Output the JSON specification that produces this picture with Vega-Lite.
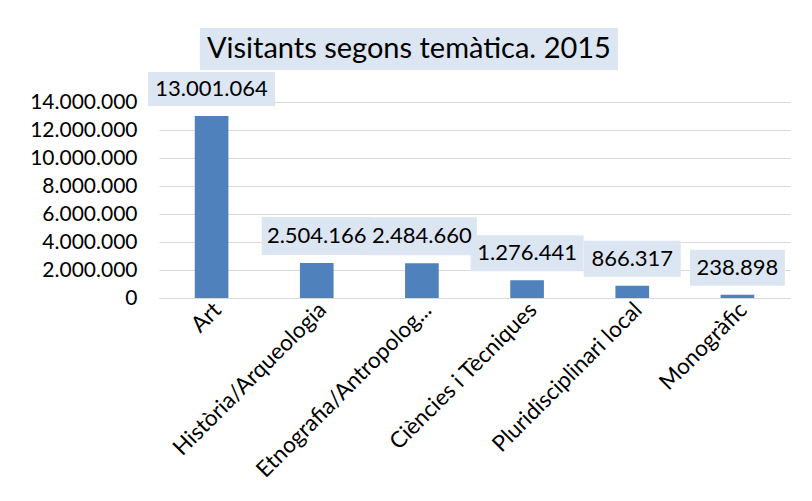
{
  "$schema": "https://vega.github.io/schema/vega-lite/v6.json",
  "width": 631,
  "height": 196,
  "autosize": {"type": "none"},
  "padding": {"left": 159, "top": 102, "right": 22, "bottom": 203},
  "background": "white",
  "config": {
    "locale": {"number": {"decimal": ",", "thousands": ".", "grouping": [3], "currency": ["", " €"]}},
    "view": {"stroke": null},
    "font": "Lato",
    "axis": {"labelFont": "Lato", "labelFontSize": 21, "labelColor": "#000000", "ticks": false, "tickSize": 0, "title": null, "labelOverlap": false}
  },
  "datasets": {
    "visitants": [
      {"tematica": "Art", "visitants": 13001064},
      {"tematica": "Història/Arqueologia", "visitants": 2504166},
      {"tematica": "Etnografia/Antropologia", "visitants": 2484660},
      {"tematica": "Ciències i Tècniques", "visitants": 1276441},
      {"tematica": "Pluridisciplinari local", "visitants": 866317},
      {"tematica": "Monogràfic", "visitants": 238898}
    ],
    "titol": [
      {"text": "Visitants segons temàtica. 2015", "tematica": "Etnografia/Antropologia", "pos": 17786000}
    ]
  },
  "data": {"name": "visitants"},
  "layer": [
    {
      "mark": {"type": "bar", "color": "#4F81BD"},
      "encoding": {
        "x": {
          "field": "tematica", "type": "nominal", "sort": null,
          "scale": {
            "domain": ["Art", "Història/Arqueologia", "Etnografia/Antropologia", "Ciències i Tècniques", "Pluridisciplinari local", "Monogràfic"],
            "paddingInner": 0.68, "paddingOuter": 0.34
          },
          "axis": {
            "labelAngle": -45, "labelAlign": "right", "labelBaseline": "middle", "labelFontSize": 22.5,
            "labelPadding": 8, "labelOffset": 6, "labelLimit": 400, "domainColor": "#D9D9D9", "grid": false,
            "labelOverlap": false,
            "labelExpr": "datum.label == 'Etnografia/Antropologia' ? 'Etnografia/Antropolog...' : datum.label"
          }
        },
        "y": {
          "field": "visitants", "type": "quantitative",
          "scale": {"domain": [0, 14000000], "nice": false},
          "axis": {
            "values": [0, 2000000, 4000000, 6000000, 8000000, 10000000, 12000000, 14000000],
            "tickCount": 20, "format": ",d", "grid": true, "gridColor": "#D9D9D9", "domain": false, "labelPadding": 22,
            "labelOverlap": false
          }
        }
      }
    },
    {
      "mark": {"type": "point", "filled": true, "fill": "#DCE6F2", "opacity": 1, "strokeWidth": 0, "size": 10000, "yOffset": -27},
      "encoding": {
        "x": {"field": "tematica", "type": "nominal", "sort": null},
        "y": {"field": "visitants", "type": "quantitative"},
        "shape": {
          "field": "tematica", "type": "nominal", "legend": null,
          "scale": {
            "domain": ["Art", "Història/Arqueologia", "Etnografia/Antropologia", "Ciències i Tècniques", "Pluridisciplinari local", "Monogràfic"],
            "range": [
              "M-1.27,-0.34H1.27V0.34H-1.27Z",
              "M-1.1,-0.38H1.1V0.38H-1.1Z",
              "M-1.1,-0.38H1.1V0.38H-1.1Z",
              "M-1.13,-0.36H1.13V0.36H-1.13Z",
              "M-0.97,-0.36H0.97V0.36H-0.97Z",
              "M-0.95,-0.36H0.95V0.36H-0.95Z"
            ]
          }
        }
      }
    },
    {
      "mark": {"type": "text", "dy": -27, "baseline": "middle", "align": "center", "fontSize": 22, "font": "Lato", "color": "#000000"},
      "encoding": {
        "x": {"field": "tematica", "type": "nominal", "sort": null},
        "y": {"field": "visitants", "type": "quantitative"},
        "text": {"field": "visitants", "type": "quantitative", "format": ",d"}
      }
    },
    {
      "data": {"name": "titol"},
      "mark": {"type": "point", "filled": true, "fill": "#DCE6F2", "opacity": 1, "strokeWidth": 0, "size": 10000, "xOffset": -13,
               "shape": "M-4.18,-0.42H4.18V0.42H-4.18Z"},
      "encoding": {
        "x": {"field": "tematica", "type": "nominal", "sort": null},
        "y": {"field": "pos", "type": "quantitative"}
      }
    },
    {
      "data": {"name": "titol"},
      "mark": {"type": "text", "dx": -13, "baseline": "middle", "align": "center", "fontSize": 29, "font": "Lato", "color": "#000000"},
      "encoding": {
        "x": {"field": "tematica", "type": "nominal", "sort": null},
        "y": {"field": "pos", "type": "quantitative"},
        "text": {"field": "text", "type": "nominal"}
      }
    }
  ]
}
